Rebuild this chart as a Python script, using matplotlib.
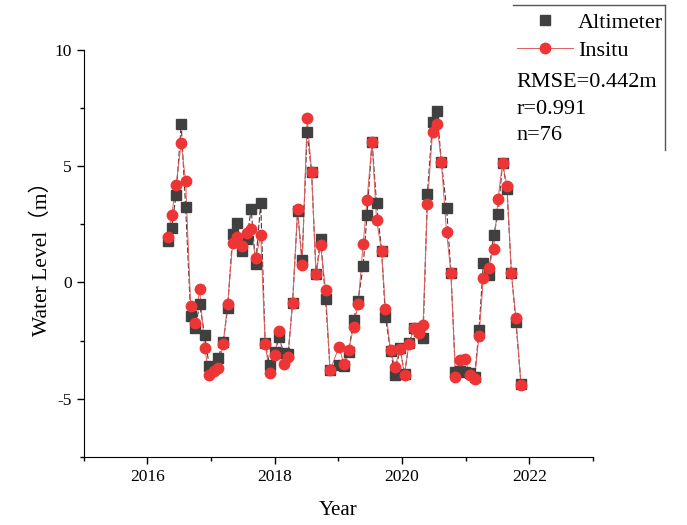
import matplotlib.pyplot as plt
from matplotlib.lines import Line2D
from matplotlib.ticker import MultipleLocator

# dados (ano decimal, nível da água em m)
anos = [2016.32, 2016.38, 2016.45, 2016.53, 2016.60, 2016.68, 2016.75, 2016.82, 2016.90, 2016.97,
        2017.04, 2017.11, 2017.19, 2017.26, 2017.34, 2017.41, 2017.48, 2017.56, 2017.63, 2017.70,
        2017.78, 2017.85, 2017.92, 2018.00, 2018.07, 2018.14, 2018.21, 2018.28, 2018.36, 2018.43,
        2018.51, 2018.58, 2018.65, 2018.72, 2018.80, 2018.87, 2019.01, 2019.09, 2019.16, 2019.24,
        2019.31, 2019.39, 2019.45, 2019.53, 2019.60, 2019.68, 2019.74, 2019.82, 2019.89, 2019.97,
        2020.04, 2020.11, 2020.19, 2020.26, 2020.33, 2020.40, 2020.48, 2020.55, 2020.62, 2020.70,
        2020.77, 2020.84, 2020.91, 2020.99, 2021.07, 2021.14, 2021.21, 2021.28, 2021.36, 2021.44,
        2021.51, 2021.58, 2021.65, 2021.72, 2021.79, 2021.87]

altimeter = [1.78, 2.36, 3.76, 6.80, 3.25, -1.45, -1.98, -0.95, -2.28, -3.60,
             -3.70, -3.25, -2.57, -1.12, 2.07, 2.54, 1.35, 1.85, 3.15, 0.78,
             3.40, -2.60, -3.55, -3.00, -2.37, -3.03, -3.10, -0.90, 3.05, 0.95,
             6.45, 4.73, 0.34, 1.88, -0.73, -3.75, -3.55, -3.60, -3.00, -1.62,
             -0.78, 0.70, 2.89, 6.05, 3.40, 1.35, -1.48, -2.96, -3.97, -2.82,
             -3.95, -2.60, -1.95, -2.10, -2.41, 3.82, 6.91, 7.36, 5.16, 3.22,
             0.39, -3.87, -3.80, -3.86, -3.90, -4.08, -2.06, 0.85, 0.31, 2.04,
             2.93, 5.13, 4.00, 0.39, -1.69, -4.35]

insitu = [1.95, 2.89, 4.18, 5.98, 4.35, -1.02, -1.74, -0.30, -2.83, -4.00,
          -3.82, -3.68, -2.67, -0.92, 1.71, 1.95, 1.57, 2.14, 2.28, 1.03,
          2.04, -2.67, -3.90, -3.12, -2.07, -3.53, -3.20, -0.90, 3.15, 0.75,
          7.07, 4.73, 0.34, 1.61, -0.34, -3.79, -2.77, -3.53, -2.92, -1.93,
          -0.95, 1.64, 3.53, 6.05, 2.69, 1.35, -1.13, -2.92, -3.65, -2.85,
          -3.97, -2.63, -1.97, -2.17, -1.85, 3.39, 6.45, 6.81, 5.16, 2.17,
          0.39, -4.05, -3.35, -3.29, -3.98, -4.15, -2.31, 0.20, 0.63, 1.45,
          3.60, 5.13, 4.15, 0.39, -1.52, -4.40]

estatisticas = ["RMSE=0.442m", "r=0.991", "n=76"]

fonte = ['Liberation Serif', 'Noto Sans CJK SC', 'DejaVu Sans']
plt.rcParams['font.family'] = fonte
plt.rcParams['axes.unicode_minus'] = False

cinza = '#404040'
vermelho = '#ee3535'

fig = plt.figure(figsize=(6.87, 5.25), dpi=100)
ax = fig.add_axes([0.122, 0.130, 0.741, 0.775])

ax.plot(anos, altimeter, color='#5a3030', ls=(0, (5, 2)), lw=0.8, zorder=2)
ax.plot(anos, insitu, color='#e06060', lw=0.7, zorder=2)
ax.plot(anos, altimeter, 's', color=cinza, ms=6.5, zorder=3)
ax.plot(anos, insitu, 'o', color=vermelho, ms=7.5, zorder=4)

ax.set_xlim(2015, 2023)
ax.set_ylim(-7.5, 10)
ax.xaxis.set_major_locator(MultipleLocator(2))
ax.xaxis.set_minor_locator(MultipleLocator(1))
ax.yaxis.set_major_locator(MultipleLocator(5))
ax.yaxis.set_minor_locator(MultipleLocator(2.5))
ax.tick_params(which='major', direction='out', length=5, width=1, labelsize=12.5)
ax.tick_params(which='minor', direction='out', length=3, width=1)
ax.spines['top'].set_visible(False)
ax.spines['right'].set_visible(False)

ax.set_xlabel('Year', fontsize=15, labelpad=12)
ax.set_ylabel('Water Level（m）', fontsize=15.5, labelpad=2)

handles = [Line2D([], [], marker='s', ls='none', color=cinza, ms=6.5),
           Line2D([], [], marker='o', color='#e06060', ms=7.5, lw=0.7,
                  markerfacecolor=vermelho, markeredgecolor=vermelho)]
leg = fig.legend(handles, ['Altimeter', 'Insitu'], loc='upper left',
                 bbox_to_anchor=(0.746, 0.985), frameon=False, fontsize=16,
                 handlelength=2.5, handletextpad=0.25, labelspacing=0.32,
                 borderpad=0.2, borderaxespad=0)

for i, txt in enumerate(estatisticas):
    fig.text(0.752, 0.843 - i * 0.051, txt, fontsize=16, va='center', ha='left')

# borda parcial da legenda (só topo e direita)
fig.add_artist(Line2D([0.747, 0.968], [0.990, 0.990], transform=fig.transFigure, color='#555555', lw=1))
fig.add_artist(Line2D([0.968, 0.968], [0.990, 0.714], transform=fig.transFigure, color='#555555', lw=1))

fig.savefig('out.png', dpi=100)
